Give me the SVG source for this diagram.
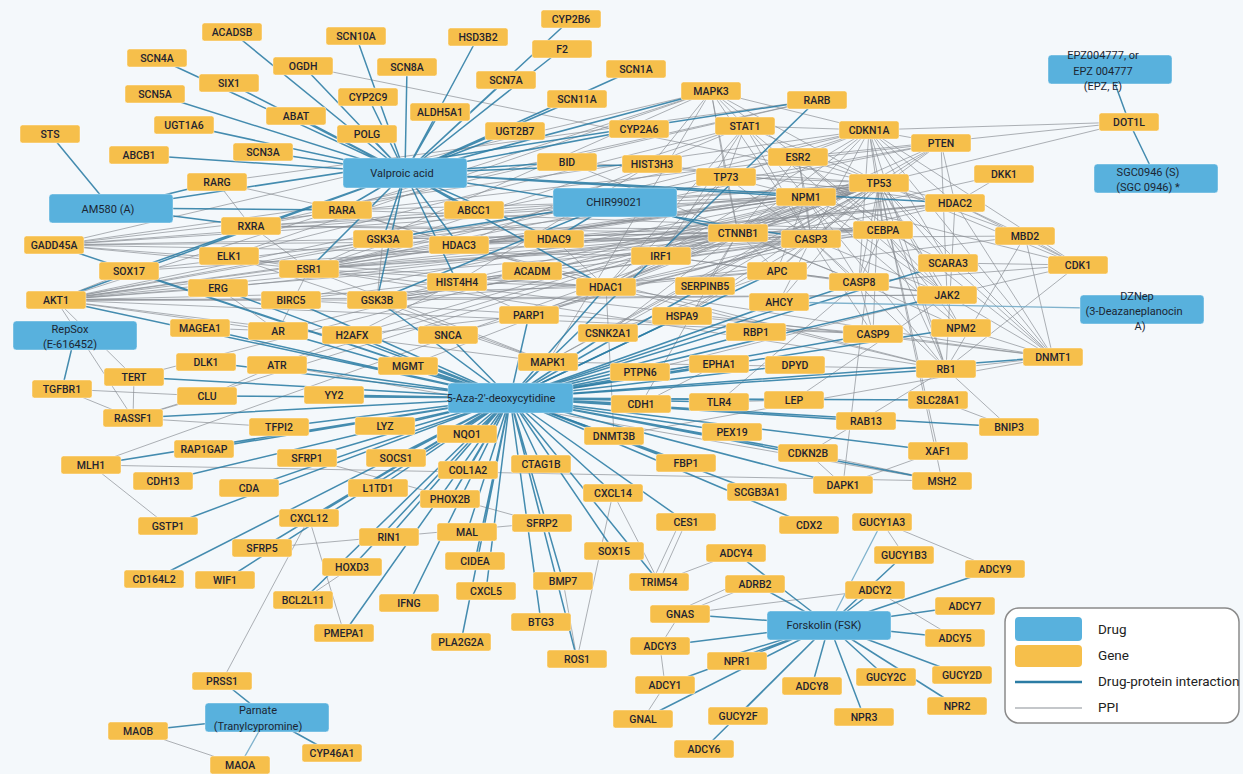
<svg xmlns="http://www.w3.org/2000/svg" width="1243" height="774" viewBox="0 0 1243 774">
<style>
text{font-family:Roboto,"Liberation Sans",sans-serif}
.g use{fill:#f6bf4b;stroke:#fff;stroke-opacity:.55;stroke-width:.8}
.g text{font-size:10.5px;font-weight:500;fill:#1f2330;text-anchor:middle}
.dr rect{fill:#58b1dd;stroke:#fff;stroke-opacity:.5;stroke-width:.8}
.dr text{font-size:11px;fill:#1b2633;text-anchor:middle}
#ppi path{stroke:#868b91;stroke-width:.9;opacity:.75;fill:none}
#dpi path{stroke:#2b7ca4;stroke-width:1.5;opacity:.88;fill:none}
#dpi path.lt{stroke:#6fa9c6;stroke-width:1.3}
.lg{font-size:13.5px;fill:#222}
</style>
<defs>
<rect id="gb" x="-30" y="-9" width="60" height="18" rx="2.5"/>
</defs>
<rect width="1243" height="774" fill="#f4f8fb"/>
<g id="connectors">
<g id="ppi">
<path d="M56 300L129 271M56 300L309 269M56 300L377 300M56 300L879 183M56 300L738 233M56 300L548 362M56 300L873 334M56 300L941 143M56 300L134 377M56 300L133 418M56 300L869 130M56 300L711 91M56 300L606 287M56 300L811 239M56 300L278 331M56 300L218 288M56 300L291 300M56 300L383 239M56 300L806 197M56 300L947 295"/>
<path d="M54 245L879 183M54 245L869 130M54 245L606 287M54 245L811 239M54 245L309 269M54 245L711 91M54 245L941 143M54 245L806 197M54 245L661 256M54 245L883 230"/>
<path d="M129 271L738 233M129 271L879 183M229 256L711 91M229 256L548 362M229 256L745 126M229 256L309 269M218 288L278 331M218 288L738 233"/>
<path d="M309 269L879 183M309 269L738 233M309 269L798 157M309 269L606 287M309 269L955 203M309 269L869 130M309 269L711 91M309 269L548 362M309 269L278 331M309 269L883 230M309 269L806 197M309 269L811 239M309 269L745 126M309 269L941 143M309 269L1053 357M309 269L946 369"/>
<path d="M251 226L342 210M251 226L817 100M251 226L217 182M251 226L309 269M251 226L883 230M251 226L879 183M251 226L738 233M251 226L806 197M342 210L817 100M342 210L459 245M342 210L606 287M342 210L806 197M342 210L883 230M217 182L342 210M217 182L817 100"/>
<path d="M383 239L738 233M383 239L377 300M377 300L738 233M377 300L879 183M377 300L777 271M377 300L548 362M377 300L883 230M377 300L811 239M377 300L947 295"/>
<path d="M459 245L606 287M459 245L955 203M459 245L554 239M459 245L745 126M459 245L879 183M459 245L806 197M459 245L883 230M554 239L606 287M554 239L955 203M554 239L1025 236"/>
<path d="M606 287L955 203M606 287L879 183M606 287L946 369M606 287L1053 357M606 287L614 436M606 287L1025 236M606 287L869 130M606 287L883 230M606 287L745 126M606 287L457 282M606 287L661 256M606 287L806 197M606 287L529 315M606 287L777 271M606 287L738 233"/>
<path d="M955 203L1025 236M955 203L1053 357M955 203L879 183M955 203L869 130M955 203L946 369M955 203L1078 265M955 203L1004 174M457 282L352 335M457 282L529 315M457 282L652 164M457 282L955 203M652 164L955 203"/>
<path d="M1129 122L869 130M1129 122L798 157M1129 122L879 183M1025 236L1053 357M1025 236L1078 265M1025 236L946 369M1025 236L879 183M1078 265L948 263M1078 265L947 295M1078 265L946 369M1078 265L879 183M1078 265L869 130M1078 265L806 197M1078 265L859 282"/>
<path d="M1053 357L869 130M1053 357L879 183M1053 357L946 369M1053 357L961 328M1053 357L614 436M1053 357L947 295M1053 357L873 334M1053 357L948 263M1053 357L798 157M946 369L1009 427M946 369L879 183M946 369L869 130M946 369L883 230M946 369L811 239M946 369L806 197M946 369L548 362M946 369L459 245"/>
<path d="M947 295L745 126M947 295L811 239M947 295L941 143M947 295L806 197M947 295L879 183M961 328L879 183M961 328L806 197M961 328L859 282M961 328L883 230M948 263L879 183M948 263L869 130"/>
<path d="M879 183L869 130M879 183L941 143M879 183L798 157M879 183L738 233M879 183L811 239M879 183L859 282M879 183L873 334M879 183L806 197M879 183L745 126M879 183L711 91M879 183L548 362M879 183L726 177M879 183L529 315M879 183L352 335M879 183L277 365M879 183L291 300M879 183L408 366M879 183L938 451M879 183L942 481M879 183L91 465M879 183L777 271M879 183L661 256M879 183L843 485M879 183L883 230M879 183L278 331M879 183L134 377M879 183L682 316M879 183L608 333M879 183L705 286M879 183L133 418M879 183L567 162M879 183L779 302"/>
<path d="M869 130L941 143M869 130L811 239M869 130L745 126M869 130L711 91M869 130L883 230M869 130L726 177M869 130L738 233M869 130L798 157M869 130L859 282M869 130L806 197M941 143L811 239M941 143L738 233M941 143L955 203M941 143L548 362"/>
<path d="M711 91L745 126M711 91L548 362M711 91L738 233M711 91L811 239M711 91L798 157M711 91L726 177M711 91L652 164M745 126L661 256M745 126L811 239M745 126L726 177M745 126L806 197M798 157L738 233M798 157L806 197M798 157L811 239M798 157L883 230"/>
<path d="M726 177L806 197M726 177L738 233M726 177L811 239M726 177L661 256M726 177L606 287M806 197L811 239M806 197L883 230M806 197L738 233M806 197L859 282M806 197L777 271M738 233L811 239M738 233L777 271M738 233L883 230M738 233L661 256M738 233L859 282M738 233L705 286M738 233L641 404M738 233L1004 174"/>
<path d="M811 239L859 282M811 239L873 334M811 239L777 271M811 239L529 315M811 239L291 300M811 239L779 302M811 239L682 316M859 282L873 334M859 282L883 230M859 282L947 295M859 282L719 402M859 282L567 162M873 334L291 300M873 334L682 316M883 230L948 263M883 230L947 295M777 271L859 282M661 256L859 282M661 256L947 295"/>
<path d="M641 404L719 364M640 372L947 295M640 372L719 364M719 402L794 400M794 400L947 295M938 400L1009 427M808 453L946 369M808 453L843 485M808 453L942 481M843 485L938 451M303 66L879 183"/>
<path d="M529 315L352 335M448 335L811 239M608 333L738 233M608 333L777 271M277 365L352 335M277 365L942 481M200 328L278 331M207 396L277 365"/>
<path d="M91 465L942 481M91 465L168 526M62 389L207 396M62 389L133 418M134 377L133 418M133 418L207 396M133 418L279 427"/>
<path d="M262 548L542 523M307 458L542 523M309 518L344 633M222 681L309 518M352 567L303 600M577 659L613 493M563 581L577 659M659 582L686 522M652 582L680 522M659 582L613 493M659 582L736 553"/>
<path d="M680 614L755 584M684 608L750 578M680 614L875 590M680 614L660 646M660 646L665 685M665 685L643 719M882 522L995 569M882 522L904 555M875 590L955 638M138 731L240 765"/>
</g>
<g id="dpi">
<path d="M405 173L232 32M405 173L157 58M405 173L303 66M405 173L229 83M405 173L155 94M405 173L296 116M405 173L184 125M405 173L263 152M405 173L139 155M405 173L356 36M405 173L407 67M405 173L478 37M405 173L368 97M405 173L440 112M405 173L506 80M405 173L562 49M405 173L571 19M405 173L577 99M405 173L636 69M405 173L367 134M405 173L515 131M405 173L639 129M405 173L567 162"/>
<path d="M405 173L342 210M405 173L383 239M405 173L459 245M405 173L474 210M405 173L554 239M405 173L606 287M405 173L955 203M405 173L377 300M405 173L457 282M405 173L56 300M405 173L129 271M405 173L811 239M405 173L711 91M405 173L652 164M405 173L806 197M405 173L309 269"/>
<path d="M111 208L50 134M111 208L217 182M111 208L342 210M111 208L251 226M111 208L817 100"/>
<path d="M615 202L383 239M615 202L377 300M615 202L738 233M615 202L554 239"/>
<path d="M510 398L1053 357M510 398L614 436M510 398L134 377M510 398L133 418M510 398L91 465M510 398L163 481M510 398L279 427M510 398L204 449M510 398L307 458M510 398L249 488M510 398L309 518M510 398L262 548M510 398L168 526M510 398L225 580M510 398L303 600M510 398L352 567M510 398L344 633M510 398L389 537M510 398L409 603M510 398L467 532M510 398L475 561M510 398L486 591M510 398L461 642M510 398L542 523M510 398L541 622M510 398L563 581M510 398L577 659M510 398L614 551M510 398L613 493"/>
<path d="M510 398L757 492M510 398L686 463M510 398L843 485M510 398L808 453M510 398L732 432M510 398L938 451M510 398L942 481M510 398L866 421M510 398L1009 427M510 398L938 400M510 398L794 400M510 398L719 402M510 398L641 404M510 398L946 369M510 398L795 365M510 398L719 364M510 398L640 372M510 398L756 332M510 398L682 316M510 398L873 334M510 398L859 282"/>
<path d="M510 398L548 362M510 398L608 333M510 398L529 315M510 398L448 335M510 398L408 366M510 398L352 335M510 398L334 395M510 398L385 426M510 398L467 434M510 398L468 470M510 398L541 464M510 398L396 458M510 398L378 488M510 398L450 499M510 398L277 365M510 398L207 396M510 398L206 362M510 398L278 331M510 398L200 328M510 398L56 300M510 398L291 300M510 398L705 286M510 398L779 302M510 398L777 271M510 398L606 287M510 398L686 522M510 398L659 582M510 398L809 525M510 398L377 300M510 398L154 579M510 398L947 295M510 398L961 328M510 398L218 288M510 398L54 245M510 398L129 271M510 398L817 100M510 398L948 263"/>
<path d="M829 625L665 685M829 625L875 590M829 625L660 646M829 625L736 553M829 625L955 638M829 625L704 749M829 625L965 606M829 625L812 686M829 625L995 569M829 625L680 614M829 625L755 584M829 625L904 555M829 625L886 677M829 625L962 675M829 625L738 716M829 625L737 661M829 625L733 655M829 625L957 706M829 625L864 717M829 625L643 719"/>
<path class="lt" d="M829 625L882 522M267 717L240 765M1142 309L779 302"/>
<path d="M267 717L222 681M267 717L138 731M267 717L332 753M75 335L62 389M1110 70L1129 122M1156 178L1129 122"/>
</g>
</g>
<g id="nodes">
<g id="ACADSB" class="g" transform="translate(232,32)"><use href="#gb"/><text y="3.8">ACADSB</text></g>
<g id="SCN4A" class="g" transform="translate(157,58)"><use href="#gb"/><text y="3.8">SCN4A</text></g>
<g id="OGDH" class="g" transform="translate(303,66)"><use href="#gb"/><text y="3.8">OGDH</text></g>
<g id="SIX1" class="g" transform="translate(229,83)"><use href="#gb"/><text y="3.8">SIX1</text></g>
<g id="SCN5A" class="g" transform="translate(155,94)"><use href="#gb"/><text y="3.8">SCN5A</text></g>
<g id="ABAT" class="g" transform="translate(296,116)"><use href="#gb"/><text y="3.8">ABAT</text></g>
<g id="UGT1A6" class="g" transform="translate(184,125)"><use href="#gb"/><text y="3.8">UGT1A6</text></g>
<g id="STS" class="g" transform="translate(50,134)"><use href="#gb"/><text y="3.8">STS</text></g>
<g id="SCN3A" class="g" transform="translate(263,152)"><use href="#gb"/><text y="3.8">SCN3A</text></g>
<g id="ABCB1" class="g" transform="translate(139,155)"><use href="#gb"/><text y="3.8">ABCB1</text></g>
<g id="RARG" class="g" transform="translate(217,182)"><use href="#gb"/><text y="3.8">RARG</text></g>
<g id="RXRA" class="g" transform="translate(251,226)"><use href="#gb"/><text y="3.8">RXRA</text></g>
<g id="GADD45A" class="g" transform="translate(54,245)"><use href="#gb"/><text y="3.8">GADD45A</text></g>
<g id="ELK1" class="g" transform="translate(229,256)"><use href="#gb"/><text y="3.8">ELK1</text></g>
<g id="RARA" class="g" transform="translate(342,210)"><use href="#gb"/><text y="3.8">RARA</text></g>
<g id="SCN10A" class="g" transform="translate(356,36)"><use href="#gb"/><text y="3.8">SCN10A</text></g>
<g id="HSD3B2" class="g" transform="translate(478,37)"><use href="#gb"/><text y="3.8">HSD3B2</text></g>
<g id="CYP2B6" class="g" transform="translate(571,19)"><use href="#gb"/><text y="3.8">CYP2B6</text></g>
<g id="F2" class="g" transform="translate(562,49)"><use href="#gb"/><text y="3.8">F2</text></g>
<g id="SCN8A" class="g" transform="translate(407,67)"><use href="#gb"/><text y="3.8">SCN8A</text></g>
<g id="SCN7A" class="g" transform="translate(506,80)"><use href="#gb"/><text y="3.8">SCN7A</text></g>
<g id="CYP2C9" class="g" transform="translate(368,97)"><use href="#gb"/><text y="3.8">CYP2C9</text></g>
<g id="ALDH5A1" class="g" transform="translate(440,112)"><use href="#gb"/><text y="3.8">ALDH5A1</text></g>
<g id="SCN11A" class="g" transform="translate(577,99)"><use href="#gb"/><text y="3.8">SCN11A</text></g>
<g id="SCN1A" class="g" transform="translate(636,69)"><use href="#gb"/><text y="3.8">SCN1A</text></g>
<g id="POLG" class="g" transform="translate(367,134)"><use href="#gb"/><text y="3.8">POLG</text></g>
<g id="UGT2B7" class="g" transform="translate(515,131)"><use href="#gb"/><text y="3.8">UGT2B7</text></g>
<g id="CYP2A6" class="g" transform="translate(639,129)"><use href="#gb"/><text y="3.8">CYP2A6</text></g>
<g id="BID" class="g" transform="translate(567,162)"><use href="#gb"/><text y="3.8">BID</text></g>
<g id="HIST3H3" class="g" transform="translate(652,164)"><use href="#gb"/><text y="3.8">HIST3H3</text></g>
<g id="ABCC1" class="g" transform="translate(474,210)"><use href="#gb"/><text y="3.8">ABCC1</text></g>
<g id="GSK3A" class="g" transform="translate(383,239)"><use href="#gb"/><text y="3.8">GSK3A</text></g>
<g id="HDAC3" class="g" transform="translate(459,245)"><use href="#gb"/><text y="3.8">HDAC3</text></g>
<g id="HDAC9" class="g" transform="translate(554,239)"><use href="#gb"/><text y="3.8">HDAC9</text></g>
<g id="MAPK3" class="g" transform="translate(711,91)"><use href="#gb"/><text y="3.8">MAPK3</text></g>
<g id="RARB" class="g" transform="translate(817,100)"><use href="#gb"/><text y="3.8">RARB</text></g>
<g id="STAT1" class="g" transform="translate(745,126)"><use href="#gb"/><text y="3.8">STAT1</text></g>
<g id="CDKN1A" class="g" transform="translate(869,130)"><use href="#gb"/><text y="3.8">CDKN1A</text></g>
<g id="PTEN" class="g" transform="translate(941,143)"><use href="#gb"/><text y="3.8">PTEN</text></g>
<g id="ESR2" class="g" transform="translate(798,157)"><use href="#gb"/><text y="3.8">ESR2</text></g>
<g id="TP73" class="g" transform="translate(726,177)"><use href="#gb"/><text y="3.8">TP73</text></g>
<g id="TP53" class="g" transform="translate(879,183)"><use href="#gb"/><text y="3.8">TP53</text></g>
<g id="NPM1" class="g" transform="translate(806,197)"><use href="#gb"/><text y="3.8">NPM1</text></g>
<g id="HDAC2" class="g" transform="translate(955,203)"><use href="#gb"/><text y="3.8">HDAC2</text></g>
<g id="CTNNB1" class="g" transform="translate(738,233)"><use href="#gb"/><text y="3.8">CTNNB1</text></g>
<g id="CASP3" class="g" transform="translate(811,239)"><use href="#gb"/><text y="3.8">CASP3</text></g>
<g id="CEBPA" class="g" transform="translate(883,230)"><use href="#gb"/><text y="3.8">CEBPA</text></g>
<g id="IRF1" class="g" transform="translate(661,256)"><use href="#gb"/><text y="3.8">IRF1</text></g>
<g id="DOT1L" class="g" transform="translate(1129,122)"><use href="#gb"/><text y="3.8">DOT1L</text></g>
<g id="DKK1" class="g" transform="translate(1004,174)"><use href="#gb"/><text y="3.8">DKK1</text></g>
<g id="MBD2" class="g" transform="translate(1025,236)"><use href="#gb"/><text y="3.8">MBD2</text></g>
<g id="CDK1" class="g" transform="translate(1078,265)"><use href="#gb"/><text y="3.8">CDK1</text></g>
<g id="SOX17" class="g" transform="translate(129,271)"><use href="#gb"/><text y="3.8">SOX17</text></g>
<g id="ESR1" class="g" transform="translate(309,269)"><use href="#gb"/><text y="3.8">ESR1</text></g>
<g id="ERG" class="g" transform="translate(218,288)"><use href="#gb"/><text y="3.8">ERG</text></g>
<g id="AKT1" class="g" transform="translate(56,300)"><use href="#gb"/><text y="3.8">AKT1</text></g>
<g id="BIRC5" class="g" transform="translate(291,300)"><use href="#gb"/><text y="3.8">BIRC5</text></g>
<g id="MAGEA1" class="g" transform="translate(200,328)"><use href="#gb"/><text y="3.8">MAGEA1</text></g>
<g id="AR" class="g" transform="translate(278,331)"><use href="#gb"/><text y="3.8">AR</text></g>
<g id="DLK1" class="g" transform="translate(206,362)"><use href="#gb"/><text y="3.8">DLK1</text></g>
<g id="ATR" class="g" transform="translate(277,365)"><use href="#gb"/><text y="3.8">ATR</text></g>
<g id="TERT" class="g" transform="translate(134,377)"><use href="#gb"/><text y="3.8">TERT</text></g>
<g id="TGFBR1" class="g" transform="translate(62,389)"><use href="#gb"/><text y="3.8">TGFBR1</text></g>
<g id="CLU" class="g" transform="translate(207,396)"><use href="#gb"/><text y="3.8">CLU</text></g>
<g id="RASSF1" class="g" transform="translate(133,418)"><use href="#gb"/><text y="3.8">RASSF1</text></g>
<g id="TFPI2" class="g" transform="translate(279,427)"><use href="#gb"/><text y="3.8">TFPI2</text></g>
<g id="RAP1GAP" class="g" transform="translate(204,449)"><use href="#gb"/><text y="3.8">RAP1GAP</text></g>
<g id="MLH1" class="g" transform="translate(91,465)"><use href="#gb"/><text y="3.8">MLH1</text></g>
<g id="SFRP1" class="g" transform="translate(307,458)"><use href="#gb"/><text y="3.8">SFRP1</text></g>
<g id="CDH13" class="g" transform="translate(163,481)"><use href="#gb"/><text y="3.8">CDH13</text></g>
<g id="CDA" class="g" transform="translate(249,488)"><use href="#gb"/><text y="3.8">CDA</text></g>
<g id="ACADM" class="g" transform="translate(532,271)"><use href="#gb"/><text y="3.8">ACADM</text></g>
<g id="HIST4H4" class="g" transform="translate(457,282)"><use href="#gb"/><text y="3.8">HIST4H4</text></g>
<g id="HDAC1" class="g" transform="translate(606,287)"><use href="#gb"/><text y="3.8">HDAC1</text></g>
<g id="GSK3B" class="g" transform="translate(377,300)"><use href="#gb"/><text y="3.8">GSK3B</text></g>
<g id="PARP1" class="g" transform="translate(529,315)"><use href="#gb"/><text y="3.8">PARP1</text></g>
<g id="H2AFX" class="g" transform="translate(352,335)"><use href="#gb"/><text y="3.8">H2AFX</text></g>
<g id="SNCA" class="g" transform="translate(448,335)"><use href="#gb"/><text y="3.8">SNCA</text></g>
<g id="CSNK2A1" class="g" transform="translate(608,333)"><use href="#gb"/><text y="3.8">CSNK2A1</text></g>
<g id="MGMT" class="g" transform="translate(408,366)"><use href="#gb"/><text y="3.8">MGMT</text></g>
<g id="MAPK1" class="g" transform="translate(548,362)"><use href="#gb"/><text y="3.8">MAPK1</text></g>
<g id="YY2" class="g" transform="translate(334,395)"><use href="#gb"/><text y="3.8">YY2</text></g>
<g id="LYZ" class="g" transform="translate(385,426)"><use href="#gb"/><text y="3.8">LYZ</text></g>
<g id="NQO1" class="g" transform="translate(467,434)"><use href="#gb"/><text y="3.8">NQO1</text></g>
<g id="DNMT3B" class="g" transform="translate(614,436)"><use href="#gb"/><text y="3.8">DNMT3B</text></g>
<g id="SOCS1" class="g" transform="translate(396,458)"><use href="#gb"/><text y="3.8">SOCS1</text></g>
<g id="COL1A2" class="g" transform="translate(468,470)"><use href="#gb"/><text y="3.8">COL1A2</text></g>
<g id="CTAG1B" class="g" transform="translate(541,464)"><use href="#gb"/><text y="3.8">CTAG1B</text></g>
<g id="L1TD1" class="g" transform="translate(378,488)"><use href="#gb"/><text y="3.8">L1TD1</text></g>
<g id="PHOX2B" class="g" transform="translate(450,499)"><use href="#gb"/><text y="3.8">PHOX2B</text></g>
<g id="CXCL14" class="g" transform="translate(613,493)"><use href="#gb"/><text y="3.8">CXCL14</text></g>
<g id="APC" class="g" transform="translate(777,271)"><use href="#gb"/><text y="3.8">APC</text></g>
<g id="SCARA3" class="g" transform="translate(948,263)"><use href="#gb"/><text y="3.8">SCARA3</text></g>
<g id="SERPINB5" class="g" transform="translate(705,286)"><use href="#gb"/><text y="3.8">SERPINB5</text></g>
<g id="CASP8" class="g" transform="translate(859,282)"><use href="#gb"/><text y="3.8">CASP8</text></g>
<g id="AHCY" class="g" transform="translate(779,302)"><use href="#gb"/><text y="3.8">AHCY</text></g>
<g id="JAK2" class="g" transform="translate(947,295)"><use href="#gb"/><text y="3.8">JAK2</text></g>
<g id="HSPA9" class="g" transform="translate(682,316)"><use href="#gb"/><text y="3.8">HSPA9</text></g>
<g id="RBP1" class="g" transform="translate(756,332)"><use href="#gb"/><text y="3.8">RBP1</text></g>
<g id="CASP9" class="g" transform="translate(873,334)"><use href="#gb"/><text y="3.8">CASP9</text></g>
<g id="NPM2" class="g" transform="translate(961,328)"><use href="#gb"/><text y="3.8">NPM2</text></g>
<g id="PTPN6" class="g" transform="translate(640,372)"><use href="#gb"/><text y="3.8">PTPN6</text></g>
<g id="EPHA1" class="g" transform="translate(719,364)"><use href="#gb"/><text y="3.8">EPHA1</text></g>
<g id="DPYD" class="g" transform="translate(795,365)"><use href="#gb"/><text y="3.8">DPYD</text></g>
<g id="RB1" class="g" transform="translate(946,369)"><use href="#gb"/><text y="3.8">RB1</text></g>
<g id="DNMT1" class="g" transform="translate(1053,357)"><use href="#gb"/><text y="3.8">DNMT1</text></g>
<g id="CDH1" class="g" transform="translate(641,404)"><use href="#gb"/><text y="3.8">CDH1</text></g>
<g id="TLR4" class="g" transform="translate(719,402)"><use href="#gb"/><text y="3.8">TLR4</text></g>
<g id="LEP" class="g" transform="translate(794,400)"><use href="#gb"/><text y="3.8">LEP</text></g>
<g id="SLC28A1" class="g" transform="translate(938,400)"><use href="#gb"/><text y="3.8">SLC28A1</text></g>
<g id="RAB13" class="g" transform="translate(866,421)"><use href="#gb"/><text y="3.8">RAB13</text></g>
<g id="BNIP3" class="g" transform="translate(1009,427)"><use href="#gb"/><text y="3.8">BNIP3</text></g>
<g id="PEX19" class="g" transform="translate(732,432)"><use href="#gb"/><text y="3.8">PEX19</text></g>
<g id="XAF1" class="g" transform="translate(938,451)"><use href="#gb"/><text y="3.8">XAF1</text></g>
<g id="CDKN2B" class="g" transform="translate(808,453)"><use href="#gb"/><text y="3.8">CDKN2B</text></g>
<g id="FBP1" class="g" transform="translate(686,463)"><use href="#gb"/><text y="3.8">FBP1</text></g>
<g id="MSH2" class="g" transform="translate(942,481)"><use href="#gb"/><text y="3.8">MSH2</text></g>
<g id="DAPK1" class="g" transform="translate(843,485)"><use href="#gb"/><text y="3.8">DAPK1</text></g>
<g id="SCGB3A1" class="g" transform="translate(757,492)"><use href="#gb"/><text y="3.8">SCGB3A1</text></g>
<g id="GSTP1" class="g" transform="translate(168,526)"><use href="#gb"/><text y="3.8">GSTP1</text></g>
<g id="CXCL12" class="g" transform="translate(309,518)"><use href="#gb"/><text y="3.8">CXCL12</text></g>
<g id="SFRP5" class="g" transform="translate(262,548)"><use href="#gb"/><text y="3.8">SFRP5</text></g>
<g id="CD164L2" class="g" transform="translate(154,579)"><use href="#gb"/><text y="3.8">CD164L2</text></g>
<g id="WIF1" class="g" transform="translate(225,580)"><use href="#gb"/><text y="3.8">WIF1</text></g>
<g id="BCL2L11" class="g" transform="translate(303,600)"><use href="#gb"/><text y="3.8">BCL2L11</text></g>
<g id="PRSS1" class="g" transform="translate(222,681)"><use href="#gb"/><text y="3.8">PRSS1</text></g>
<g id="MAOB" class="g" transform="translate(138,731)"><use href="#gb"/><text y="3.8">MAOB</text></g>
<g id="MAOA" class="g" transform="translate(240,765)"><use href="#gb"/><text y="3.8">MAOA</text></g>
<g id="CYP46A1" class="g" transform="translate(332,753)"><use href="#gb"/><text y="3.8">CYP46A1</text></g>
<g id="SFRP2" class="g" transform="translate(542,523)"><use href="#gb"/><text y="3.8">SFRP2</text></g>
<g id="MAL" class="g" transform="translate(467,532)"><use href="#gb"/><text y="3.8">MAL</text></g>
<g id="RIN1" class="g" transform="translate(389,537)"><use href="#gb"/><text y="3.8">RIN1</text></g>
<g id="HOXD3" class="g" transform="translate(352,567)"><use href="#gb"/><text y="3.8">HOXD3</text></g>
<g id="SOX15" class="g" transform="translate(614,551)"><use href="#gb"/><text y="3.8">SOX15</text></g>
<g id="CIDEA" class="g" transform="translate(475,561)"><use href="#gb"/><text y="3.8">CIDEA</text></g>
<g id="BMP7" class="g" transform="translate(563,581)"><use href="#gb"/><text y="3.8">BMP7</text></g>
<g id="CXCL5" class="g" transform="translate(486,591)"><use href="#gb"/><text y="3.8">CXCL5</text></g>
<g id="IFNG" class="g" transform="translate(409,603)"><use href="#gb"/><text y="3.8">IFNG</text></g>
<g id="PMEPA1" class="g" transform="translate(344,633)"><use href="#gb"/><text y="3.8">PMEPA1</text></g>
<g id="BTG3" class="g" transform="translate(541,622)"><use href="#gb"/><text y="3.8">BTG3</text></g>
<g id="PLA2G2A" class="g" transform="translate(461,642)"><use href="#gb"/><text y="3.8">PLA2G2A</text></g>
<g id="ROS1" class="g" transform="translate(577,659)"><use href="#gb"/><text y="3.8">ROS1</text></g>
<g id="CES1" class="g" transform="translate(686,522)"><use href="#gb"/><text y="3.8">CES1</text></g>
<g id="CDX2" class="g" transform="translate(809,525)"><use href="#gb"/><text y="3.8">CDX2</text></g>
<g id="GUCY1A3" class="g" transform="translate(882,522)"><use href="#gb"/><text y="3.8">GUCY1A3</text></g>
<g id="ADCY4" class="g" transform="translate(736,553)"><use href="#gb"/><text y="3.8">ADCY4</text></g>
<g id="GUCY1B3" class="g" transform="translate(904,555)"><use href="#gb"/><text y="3.8">GUCY1B3</text></g>
<g id="TRIM54" class="g" transform="translate(659,582)"><use href="#gb"/><text y="3.8">TRIM54</text></g>
<g id="ADRB2" class="g" transform="translate(755,584)"><use href="#gb"/><text y="3.8">ADRB2</text></g>
<g id="ADCY2" class="g" transform="translate(875,590)"><use href="#gb"/><text y="3.8">ADCY2</text></g>
<g id="ADCY9" class="g" transform="translate(995,569)"><use href="#gb"/><text y="3.8">ADCY9</text></g>
<g id="GNAS" class="g" transform="translate(680,614)"><use href="#gb"/><text y="3.8">GNAS</text></g>
<g id="ADCY7" class="g" transform="translate(965,606)"><use href="#gb"/><text y="3.8">ADCY7</text></g>
<g id="ADCY3" class="g" transform="translate(660,646)"><use href="#gb"/><text y="3.8">ADCY3</text></g>
<g id="ADCY5" class="g" transform="translate(955,638)"><use href="#gb"/><text y="3.8">ADCY5</text></g>
<g id="NPR1" class="g" transform="translate(737,661)"><use href="#gb"/><text y="3.8">NPR1</text></g>
<g id="GUCY2D" class="g" transform="translate(962,675)"><use href="#gb"/><text y="3.8">GUCY2D</text></g>
<g id="GUCY2C" class="g" transform="translate(886,677)"><use href="#gb"/><text y="3.8">GUCY2C</text></g>
<g id="ADCY1" class="g" transform="translate(665,685)"><use href="#gb"/><text y="3.8">ADCY1</text></g>
<g id="ADCY8" class="g" transform="translate(812,686)"><use href="#gb"/><text y="3.8">ADCY8</text></g>
<g id="NPR2" class="g" transform="translate(957,706)"><use href="#gb"/><text y="3.8">NPR2</text></g>
<g id="GNAL" class="g" transform="translate(643,719)"><use href="#gb"/><text y="3.8">GNAL</text></g>
<g id="GUCY2F" class="g" transform="translate(738,716)"><use href="#gb"/><text y="3.8">GUCY2F</text></g>
<g id="NPR3" class="g" transform="translate(864,717)"><use href="#gb"/><text y="3.8">NPR3</text></g>
<g id="ADCY6" class="g" transform="translate(704,749)"><use href="#gb"/><text y="3.8">ADCY6</text></g>
<g id="Valproic" class="dr"><rect x="343" y="158" width="124" height="30" rx="3.5"/><text x="402" y="177">Valproic acid</text></g>
<g id="AM580" class="dr"><rect x="49" y="194" width="124" height="29" rx="3.5"/><text x="108" y="213">AM580 (A)</text></g>
<g id="CHIR99021" class="dr"><rect x="553" y="188" width="124" height="29" rx="3.5"/><text x="614" y="206">CHIR99021</text></g>
<g id="EPZ004777" class="dr"><rect x="1048" y="55" width="124" height="29" rx="3.5"/><text x="1103" y="59">EPZ004777, or</text><text x="1103" y="75">EPZ 004777</text><text x="1103" y="90">(EPZ, E)</text></g>
<g id="SGC0946" class="dr"><rect x="1094" y="164" width="124" height="29" rx="3.5"/><text x="1148" y="176">SGC0946 (S)</text><text x="1148" y="191">(SGC 0946) *</text></g>
<g id="DZNep" class="dr"><rect x="1080" y="295" width="124" height="29" rx="3.5"/><text x="1137" y="300">DZNep</text><text x="1134" y="315">(3-Deazaneplanocin</text><text x="1140" y="330">A)</text></g>
<g id="RepSox" class="dr"><rect x="13" y="321" width="124" height="29" rx="3.5"/><text x="70" y="333">RepSox</text><text x="70" y="348">(E-616452)</text></g>
<g id="Aza" class="dr"><rect x="448" y="383" width="125" height="30" rx="3.5"/><text x="501" y="402">5-Aza-2'-deoxycytidine</text></g>
<g id="Forskolin" class="dr"><rect x="767" y="611" width="124" height="29" rx="3.5"/><text x="824" y="629">Forskolin (FSK)</text></g>
<g id="Parnate" class="dr"><rect x="205" y="703" width="124" height="29" rx="3.5"/><text x="258" y="714">Parnate</text><text x="258" y="730">(Tranylcypromine)</text></g>
</g>
<g id="legend">
<rect x="1005" y="608" width="234" height="115" rx="14" fill="#fff" stroke="#8a8a8a" stroke-width="1.5"/>
<rect x="1015" y="617" width="67" height="24" rx="4" fill="#58b1dd"/>
<rect x="1015" y="645" width="67" height="22" rx="4" fill="#f6bf4b"/>
<path d="M1015 682H1082" stroke="#2b7ca4" stroke-width="2.6"/>
<path d="M1015 708H1082" stroke="#8a8f95" stroke-width="1.2"/>
<text class="lg" x="1098" y="634">Drug</text>
<text class="lg" x="1098" y="660">Gene</text>
<text class="lg" x="1098" y="686">Drug-protein interaction</text>
<text class="lg" x="1098" y="712">PPI</text>
</g>
</svg>
